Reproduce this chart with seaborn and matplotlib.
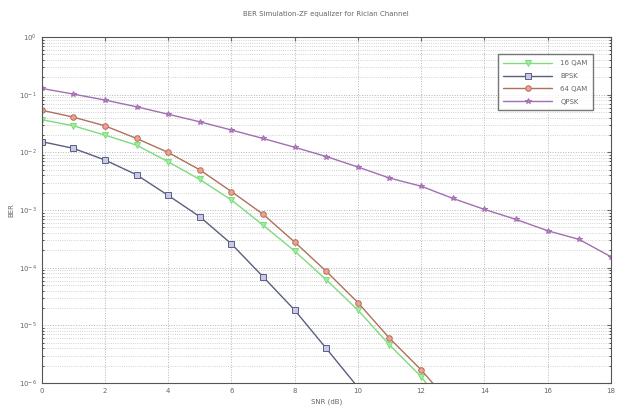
import numpy as np
import pandas as pd
import matplotlib
matplotlib.use("Agg")
import matplotlib.pyplot as plt
import seaborn as sns

snr_db = list(range(0, 19))

qam16 = [0.037, 0.029, 0.020, 0.0134, 0.0069, 0.0034, 0.0015, 0.00055, 0.000195,
         6.2e-5, 1.85e-5, 4.6e-6, 1.3e-6, 2.5e-7]
bpsk = [0.0154, 0.0118, 0.0074, 0.0041, 0.0018, 0.00077, 0.00026, 7.0e-5, 1.85e-5,
        4.0e-6, 8.5e-7]
qam64 = [0.054, 0.041, 0.029, 0.0175, 0.010, 0.0050, 0.0021, 0.00085, 0.00028,
         8.7e-5, 2.5e-5, 6.0e-6, 1.7e-6, 4.0e-7]
qpsk = [0.129, 0.103, 0.081, 0.062, 0.046, 0.034, 0.0245, 0.0175, 0.0123, 0.0085,
        0.0056, 0.0036, 0.0026, 0.0016, 0.00103, 0.00069, 0.00044, 0.00031, 0.000156]

series = {"16 QAM": qam16, "BPSK": bpsk, "64 QAM": qam64, "QPSK": qpsk}
rows = []
for name, vals in series.items():
    for x, v in zip(snr_db, vals):
        rows.append({"snr": x, "ber": v, "mod": name})
df = pd.DataFrame(rows)

line_colors = {"16 QAM": "#7ddc7d", "BPSK": "#5a5f80", "64 QAM": "#b0705a", "QPSK": "#a070b0"}
markers = {"16 QAM": "v", "BPSK": "s", "64 QAM": "o", "QPSK": "*"}
face = {"16 QAM": "#9cf09c", "BPSK": "#c8c8ee", "64 QAM": "#f0a090", "QPSK": "#e070e0"}

sns.set_style("white")
plt.rcParams["font.family"] = ["DejaVu Sans"]
txt = "#666666"

fig = plt.figure(figsize=(6.22, 4.08), dpi=100)
ax = fig.add_axes([0.067, 0.061, 0.915, 0.848])

for name in series:
    sub = df[df["mod"] == name]
    sns.lineplot(data=sub, x="snr", y="ber", ax=ax, color=line_colors[name],
                 marker=markers[name], markersize=4, markerfacecolor=face[name],
                 markeredgecolor=line_colors[name], markeredgewidth=0.7,
                 linewidth=1.0, label=name, clip_on=True)

ax.set_yscale("log")
ax.set_xlim(0, 18)
ax.set_ylim(1e-6, 1)
ax.set_xticks(range(0, 19, 2))
ax.set_yticks([10.0 ** -k for k in range(6, -1, -1)])
ax.set_yticklabels([r"$10^{%d}$" % -k if k else r"$10^{0}$" for k in range(6, -1, -1)])
ax.grid(True, which="major", color="#b4b4b4", linestyle=":", linewidth=0.7)
ax.grid(True, which="minor", axis="y", color="#c4c4c4", linestyle=":", linewidth=0.6)
ax.tick_params(axis="both", labelsize=5, colors=txt, direction="in", length=3,
               top=True, right=True)
ax.tick_params(axis="y", which="minor", direction="in", length=1.5, left=True, right=True)
for s in ax.spines.values():
    s.set_color("#555555")
    s.set_linewidth(0.8)

ax.set_xlabel("SNR (dB)", fontsize=5, color=txt, labelpad=3)
ax.set_ylabel("BER", fontsize=5, color=txt, labelpad=3)
ax.set_title("BER Simulation-ZF equalizer for Rician Channel", fontsize=5, color=txt, pad=15)

leg = ax.legend(loc="upper right", bbox_to_anchor=(0.975, 0.96), fontsize=5,
                frameon=True, fancybox=False, edgecolor="#555555",
                handlelength=7, labelspacing=1.0, borderpad=0.8, handletextpad=1.2)
for t in leg.get_texts():
    t.set_color(txt)

fig.savefig("out.png", dpi=100)
